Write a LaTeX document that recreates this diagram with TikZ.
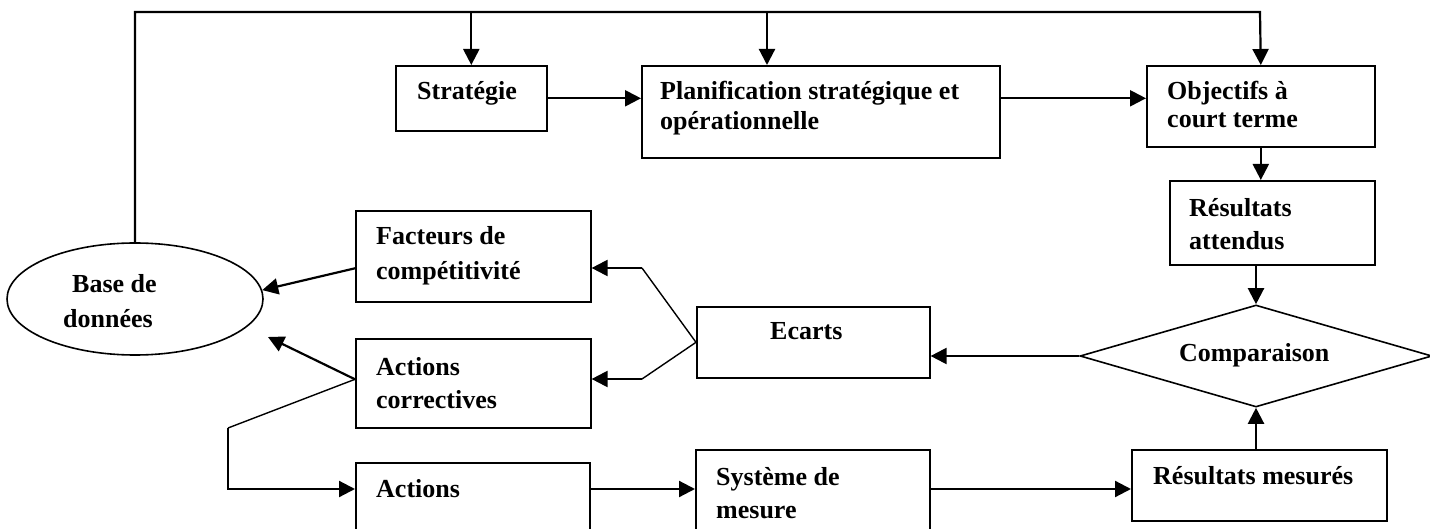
\documentclass[tikz,border=0pt]{standalone}
\usepackage{fontspec}
\setmainfont{Liberation Serif}
\usetikzlibrary{shapes.geometric,arrows.meta}
\begin{document}
\begin{tikzpicture}[x=1pt,y=-1pt,
  boxstyle/.style={draw,line width=1.6pt,inner sep=0pt,rectangle},
  lbl/.style={anchor=base west,inner sep=0pt,font=\bfseries\fontsize{26}{30}\selectfont},
  arr/.style={line width=2.2pt,-{Triangle[length=16pt,width=16pt]}},
  thinln/.style={line width=1.4pt}]
\useasboundingbox (0,0) rectangle (1430,529);
\clip (0,0) rectangle (1430,529);
% boxes
\node[boxstyle,minimum width=151pt,minimum height=65pt,anchor=north west] (strat) at (395,65) {};
\node[boxstyle,minimum width=358pt,minimum height=92pt,anchor=north west] (plan) at (641,65) {};
\node[boxstyle,minimum width=228pt,minimum height=81pt,anchor=north west] (obj) at (1146,65) {};
\node[boxstyle,minimum width=205pt,minimum height=84pt,anchor=north west] (ratt) at (1169,180) {};
\node[boxstyle,minimum width=235pt,minimum height=91pt,anchor=north west] (fact) at (355,210) {};
\node[boxstyle,minimum width=235pt,minimum height=89pt,anchor=north west] (acorr) at (355,338) {};
\node[boxstyle,minimum width=233pt,minimum height=71pt,anchor=north west] (ecarts) at (696,306) {};
\node[boxstyle,minimum width=234pt,minimum height=110pt,anchor=north west] (actions) at (355,462) {};
\node[boxstyle,minimum width=234pt,minimum height=120pt,anchor=north west] (sysm) at (695,449) {};
\node[boxstyle,minimum width=255pt,minimum height=71pt,anchor=north west] (rmes) at (1131,449) {};
\node[draw,ellipse,line width=1.6pt,inner sep=0pt,minimum width=256pt,minimum height=112pt] (ell) at (135,299) {};
\node[draw,diamond,line width=1.6pt,inner sep=0pt,aspect=3.45,minimum width=352pt,minimum height=102pt] (comp) at (1256,356) {};
% texts
\node[lbl] (tstrat) at (417,100) {Stratégie};
\node[lbl] (tplan1) at (660,100) {Planification stratégique et};
\node[lbl] (tplan2) at (660,130) {opérationnelle};
\node[lbl] (tobj1) at (1167,100) {Objectifs à};
\node[lbl] (tobj2) at (1167,128) {court terme};
\node[lbl] (tratt1) at (1189,217) {Résultats};
\node[lbl] (tratt2) at (1189,250) {attendus};
\node[lbl] (tfact1) at (376,245) {Facteurs de};
\node[lbl] (tfact2) at (376,280) {compétitivité};
\node[lbl] (tac1) at (376,375) {Actions};
\node[lbl] (tac2) at (376,408) {correctives};
\node[lbl] (tbase1) at (72,293) {Base de};
\node[lbl] (tbase2) at (63,328) {données};
\node[lbl] (tecarts) at (770,340) {Ecarts};
\node[lbl] (tcomp) at (1179,362) {Comparaison};
\node[lbl] (trmes) at (1153,484) {Résultats mesurés};
\node[lbl] (tact) at (376,497) {Actions};
\node[lbl] (tsys1) at (716,485) {Système de};
\node[lbl] (tsys2) at (716,518) {mesure};
% coordinates
\coordinate (top) at (1260,12);
\coordinate (pt) at (767,12);
\coordinate (e1) at (642,268);
\coordinate (e2) at (642,379);
\coordinate (a1) at (268,337);
\coordinate (b1) at (228,428);
\coordinate (b2) at (228,489);
% top feedback line
\draw[arr] (ell.north) |- (top) -- (obj.north);
\draw[arr] (strat.north |- top) -- (strat.north);
\draw[arr] (pt) -- (pt |- plan.north);
% top row
\draw[arr] (strat.east) -- (strat.east -| plan.west);
\draw[arr] (strat.east -| plan.east) -- (strat.east -| obj.west);
\draw[arr] (obj.south) -- (obj.south |- ratt.north);
\draw[arr] (ratt.south -| comp.north) -- (comp.north);
\draw[arr] (rmes.north -| comp.south) -- (comp.south);
\draw[arr] (comp.west) -- (comp.west -| ecarts.east);
% ecarts branches
\draw[thinln] (ecarts.west) -- (e1);
\draw[arr] (e1) -- (e1 -| fact.east);
\draw[thinln] (ecarts.west) -- (e2);
\draw[arr] (e2) -- (e2 -| acorr.east);
% to database
\draw[arr] ([yshift=-12pt]fact.west) -- (ell.4);
\draw[arr] ([yshift=4pt]acorr.west) -- (a1);
% to actions
\draw[thinln] ([yshift=4pt]acorr.west) -- (b1);
\draw[arr] (b1) -- (b2) -- (b2 -| actions.west);
\draw[arr] (b2 -| actions.east) -- (b2 -| sysm.west);
\draw[arr] (b2 -| sysm.east) -- (b2 -| rmes.west);
\end{tikzpicture}
\end{document}
